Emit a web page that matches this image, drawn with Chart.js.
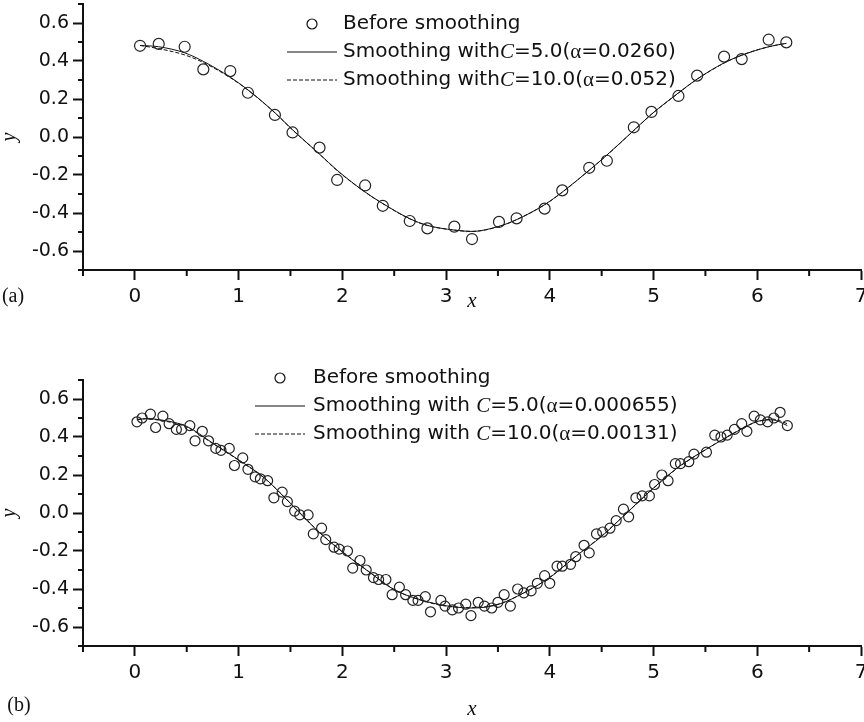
<!DOCTYPE html>
<html>
<head>
<meta charset="utf-8">
<script src="https://cdn.jsdelivr.net/npm/chart.js@4.4.0/dist/chart.umd.min.js"></script>
<style>
  html, body { margin: 0; padding: 0; background: #fff; }
  #wrap { position: relative; width: 864px; height: 722px; }
  canvas { position: absolute; left: 0; }
  #chartA { top: 0; }
  #chartB { top: 360px; }
</style>
</head>
<body>
<div id="wrap">
  <canvas id="chartA" width="864" height="360"></canvas>
  <canvas id="chartB" width="864" height="362"></canvas>
</div>
<script>
// axis ticks shared by both panels
const xTicks = [0, 1, 2, 3, 4, 5, 6, 7];
const xMinor = [-0.5, 0.5, 1.5, 2.5, 3.5, 4.5, 5.5, 6.5];
const yTicks = [-0.6, -0.4, -0.2, 0, 0.2, 0.4, 0.6];
const yMinor = [-0.7, -0.5, -0.3, -0.1, 0.1, 0.3, 0.5, 0.7];

// panel (a): raw samples
const xRawA = [0.05, 0.23, 0.48, 0.66, 0.92, 1.09, 1.35, 1.52, 1.78, 1.95, 2.22, 2.39, 2.65, 2.82, 3.08,
  3.25, 3.51, 3.68, 3.95, 4.12, 4.38, 4.55, 4.81, 4.98, 5.24, 5.42, 5.68, 5.85, 6.11, 6.28];
const yRawA = [0.48, 0.49, 0.475, 0.356, 0.347, 0.233, 0.116, 0.024, -0.056, -0.226, -0.255, -0.362, -0.442, -0.481, -0.472,
  -0.537, -0.447, -0.428, -0.377, -0.281, -0.162, -0.125, 0.051, 0.132, 0.216, 0.323, 0.423, 0.41, 0.512, 0.498];
// panel (a): smoothed curves at the sample positions
const ySmoothA5 = [0.482, 0.475, 0.443, 0.398, 0.315, 0.248, 0.128, 0.038, -0.09, -0.175, -0.29, -0.35, -0.43, -0.465, -0.49,
  -0.497, -0.47, -0.435, -0.356, -0.29, -0.175, -0.095, 0.035, 0.12, 0.232, 0.305, 0.39, 0.43, 0.475, 0.493];
const ySmoothA10 = [0.482, 0.465, 0.432, 0.392, 0.312, 0.247, 0.127, 0.037, -0.09, -0.177, -0.29, -0.351, -0.431, -0.466, -0.49,
  -0.497, -0.471, -0.435, -0.357, -0.291, -0.175, -0.096, 0.034, 0.119, 0.231, 0.304, 0.389, 0.431, 0.475, 0.493];

// panel (b): raw samples
const xRawB = [0.02, 0.07, 0.15, 0.2, 0.27, 0.33, 0.4, 0.45, 0.53, 0.58,
  0.65, 0.71, 0.78, 0.83, 0.91, 0.96, 1.04, 1.09, 1.16, 1.21,
  1.28, 1.34, 1.42, 1.47, 1.54, 1.59, 1.67, 1.72, 1.8, 1.84,
  1.92, 1.97, 2.05, 2.1, 2.17, 2.23, 2.3, 2.35, 2.42, 2.48,
  2.55, 2.61, 2.68, 2.73, 2.8, 2.85, 2.95, 2.99, 3.06, 3.12,
  3.19, 3.24, 3.31, 3.37, 3.44, 3.5, 3.56, 3.62, 3.69, 3.75,
  3.82, 3.88, 3.95, 4.0, 4.07, 4.12, 4.2, 4.25, 4.33, 4.38,
  4.45, 4.51, 4.58, 4.64, 4.71, 4.76, 4.83, 4.89, 4.96, 5.01,
  5.08, 5.14, 5.21, 5.26, 5.34, 5.39, 5.51, 5.59, 5.65, 5.71,
  5.78, 5.85, 5.9, 5.97, 6.03, 6.1, 6.16, 6.22, 6.29];
const yRawB = [0.48, 0.5, 0.52, 0.45, 0.51, 0.47, 0.44, 0.44, 0.46, 0.38,
  0.43, 0.38, 0.34, 0.33, 0.34, 0.25, 0.29, 0.23, 0.19, 0.18,
  0.17, 0.08, 0.11, 0.06, 0.01, -0.01, -0.01, -0.11, -0.08, -0.14,
  -0.18, -0.19, -0.2, -0.29, -0.25, -0.3, -0.34, -0.35, -0.35, -0.43,
  -0.39, -0.43, -0.46, -0.46, -0.44, -0.52, -0.46, -0.49, -0.51, -0.5,
  -0.48, -0.54, -0.47, -0.49, -0.5, -0.47, -0.43, -0.49, -0.4, -0.42,
  -0.41, -0.37, -0.33, -0.37, -0.28, -0.28, -0.27, -0.23, -0.17, -0.21,
  -0.11, -0.1, -0.08, -0.04, 0.02, -0.02, 0.08, 0.09, 0.09, 0.15,
  0.2, 0.17, 0.26, 0.26, 0.27, 0.31, 0.32, 0.41, 0.4, 0.41,
  0.44, 0.47, 0.43, 0.51, 0.49, 0.48, 0.5, 0.53, 0.46];
// panel (b): smoothed curves
const xSmoothB = [0.02, 0.1, 0.25, 0.5, 0.75, 1.0, 1.25, 1.5, 1.75, 2.0, 2.25, 2.5, 2.75, 3.0,
  3.25, 3.5, 3.75, 4.0, 4.25, 4.5, 4.75, 5.0, 5.25, 5.5, 5.75, 6.0, 6.15, 6.29];
const ySmoothB5 = [0.49, 0.497, 0.49, 0.456, 0.368, 0.28, 0.184, 0.05, -0.088, -0.205, -0.307, -0.404, -0.456, -0.488,
  -0.5, -0.482, -0.42, -0.34, -0.228, -0.123, 0.005, 0.132, 0.246, 0.333, 0.412, 0.482, 0.49, 0.46];
const ySmoothB10 = [0.493, 0.495, 0.487, 0.452, 0.366, 0.278, 0.183, 0.052, -0.086, -0.203, -0.306, -0.402, -0.458, -0.49,
  -0.498, -0.48, -0.421, -0.338, -0.228, -0.12, 0.004, 0.13, 0.244, 0.332, 0.414, 0.48, 0.494, 0.47];

const SANS = '"DejaVu Sans", sans-serif';
const SERIF = '"Liberation Serif", "Times New Roman", serif';
const INK = '#111';
const TXT = '20px ' + SANS;
const ITAL = 'italic 21px ' + SERIF;
const GREEK = '21px ' + SERIF;

// legend rows: text is split into pieces so C can be italic and alpha serif
const legendA = [
  { kind: 'circle', parts: [['Before smoothing', TXT]] },
  { kind: 'solid', parts: [['Smoothing with', TXT], ['C', ITAL], ['=5.0(', TXT], ['α', GREEK], ['=0.0260)', TXT]] },
  { kind: 'dash', parts: [['Smoothing with', TXT], ['C', ITAL], ['=10.0(', TXT], ['α', GREEK], ['=0.052)', TXT]] }
];
const legendB = [
  { kind: 'circle', parts: [['Before smoothing', TXT]] },
  { kind: 'solid', parts: [['Smoothing with ', TXT], ['C', ITAL], ['=5.0(', TXT], ['α', GREEK], ['=0.000655)', TXT]] },
  { kind: 'dash', parts: [['Smoothing with ', TXT], ['C', ITAL], ['=10.0(', TXT], ['α', GREEK], ['=0.00131)', TXT]] }
];

function drawRich(ctx, x, y, parts) {
  ctx.textBaseline = 'middle';
  ctx.textAlign = 'left';
  for (const [text, font] of parts) {
    ctx.font = font;
    ctx.fillText(text, x, y);
    x += ctx.measureText(text).width;
  }
}

function legendPlugin(spec) {
  return {
    id: 'richLegend',
    afterDraw(chart) {
      const ctx = chart.ctx;
      ctx.save();
      ctx.fillStyle = INK;
      ctx.strokeStyle = INK;
      spec.rows.forEach((row, i) => {
        const y = spec.top + i * spec.gap;
        const sx = spec.symX;
        if (row.kind === 'circle') {
          ctx.lineWidth = 1.2;
          ctx.beginPath();
          ctx.arc(sx + 25, y, 5, 0, Math.PI * 2);
          ctx.stroke();
        } else {
          ctx.lineWidth = 1;
          ctx.setLineDash(row.kind === 'dash' ? [4, 2] : []);
          ctx.beginPath();
          ctx.moveTo(sx, y);
          ctx.lineTo(sx + 50, y);
          ctx.stroke();
          ctx.setLineDash([]);
        }
        drawRich(ctx, spec.textX, y, row.parts);
      });
      // panel tag (a)/(b)
      ctx.font = '20px ' + SERIF;
      ctx.textAlign = 'center';
      ctx.fillText(spec.tag, spec.tagX, spec.tagY);
      ctx.restore();
    }
  };
}

// short minor ticks between the labelled ones
const minorTicks = {
  id: 'minorTicks',
  afterDraw(chart) {
    const { ctx, chartArea } = chart;
    const xs = chart.scales.x, ys = chart.scales.y;
    ctx.save();
    ctx.strokeStyle = INK;
    ctx.lineWidth = 2;
    ctx.beginPath();
    xMinor.forEach(v => {
      const px = xs.getPixelForValue(v);
      ctx.moveTo(px, chartArea.bottom);
      ctx.lineTo(px, chartArea.bottom + 6);
    });
    yMinor.forEach(v => {
      const py = ys.getPixelForValue(v);
      ctx.moveTo(chartArea.left, py);
      ctx.lineTo(chartArea.left - 5, py);
    });
    ctx.stroke();
    ctx.restore();
  }
};

function zeroPad(s) {
  s.paddingLeft = 0; s.paddingRight = 0; s.paddingTop = 0; s.paddingBottom = 0;
}

const toXY = (xs, ys) => xs.map((x, i) => ({ x, y: ys[i] }));

function buildChart(id, cfg) {
  return new Chart(document.getElementById(id), {
    type: 'line',
    data: {
      datasets: [
        {
          label: 'Before smoothing',
          data: toXY(cfg.xRaw, cfg.yRaw),
          showLine: false,
          pointStyle: 'circle',
          pointRadius: cfg.dot,
          pointBorderWidth: 1.2,
          pointBorderColor: '#222',
          pointBackgroundColor: 'rgba(0,0,0,0)',
          borderColor: '#222'
        },
        {
          label: 'C=5.0',
          data: toXY(cfg.xSmooth, cfg.ySmooth5),
          borderColor: INK,
          borderWidth: 1,
          pointRadius: 0,
          cubicInterpolationMode: 'monotone'
        },
        {
          label: 'C=10.0',
          data: toXY(cfg.xSmooth, cfg.ySmooth10),
          borderColor: INK,
          borderWidth: 1,
          borderDash: [4, 2],
          pointRadius: 0,
          cubicInterpolationMode: 'monotone'
        }
      ]
    },
    options: {
      responsive: false,
      animation: false,
      devicePixelRatio: 1,
      events: [],
      layout: { padding: { top: cfg.padTop, right: 3, left: 0, bottom: 0 }, autoPadding: false },
      plugins: { legend: { display: false }, tooltip: { enabled: false } },
      scales: {
        x: {
          type: 'linear',
          min: -0.5,
          max: 7,
          afterBuildTicks: s => { s.ticks = xTicks.map(v => ({ value: v })); },
          afterFit: s => { s.height = cfg.xHeight; zeroPad(s); },
          ticks: {
            font: { family: SANS, size: 20 },
            color: INK,
            padding: 5,
            maxRotation: 0,
            autoSkip: false,
            callback: v => String(v)
          },
          grid: { drawOnChartArea: false, drawTicks: true, tickLength: 10, tickWidth: 2, tickColor: INK },
          border: { display: true, width: 2, color: INK },
          title: {
            display: true,
            text: 'x',
            color: INK,
            font: { family: SERIF, size: 21, style: 'italic', lineHeight: 1 },
            padding: { top: 0, bottom: cfg.xTitlePad }
          }
        },
        y: {
          type: 'linear',
          min: -0.7,
          max: 0.7,
          afterBuildTicks: s => { s.ticks = yTicks.map(v => ({ value: v })); },
          afterFit: s => { s.width = 83; zeroPad(s); },
          ticks: {
            font: { family: SANS, size: 19 },
            color: INK,
            padding: 4,
            callback: v => v.toFixed(1)
          },
          grid: { drawOnChartArea: false, drawTicks: true, tickLength: 10, tickWidth: 2, tickColor: INK },
          border: { display: true, width: 2, color: INK },
          title: {
            display: true,
            text: 'y',
            color: INK,
            font: { family: SERIF, size: 20, style: 'italic', lineHeight: 1 },
            padding: { top: 0, bottom: 0 }
          }
        }
      }
    },
    plugins: [minorTicks, legendPlugin(cfg.legend)]
  });
}

buildChart('chartA', {
  xRaw: xRawA, yRaw: yRawA,
  xSmooth: xRawA, ySmooth5: ySmoothA5, ySmooth10: ySmoothA10,
  dot: 5.5, padTop: 4, xHeight: 90, xTitlePad: 48,
  legend: { rows: legendA, symX: 287, textX: 343, top: 24, gap: 28, tag: '(a)', tagX: 13, tagY: 297 }
});

buildChart('chartB', {
  xRaw: xRawB, yRaw: yRawB,
  xSmooth: xSmoothB, ySmooth5: ySmoothB5, ySmooth10: ySmoothB10,
  dot: 5, padTop: 20, xHeight: 76, xTitlePad: 2,
  legend: { rows: legendB, symX: 255, textX: 313, top: 18, gap: 28, tag: '(b)', tagX: 19, tagY: 346 }
});
</script>
</body>
</html>
